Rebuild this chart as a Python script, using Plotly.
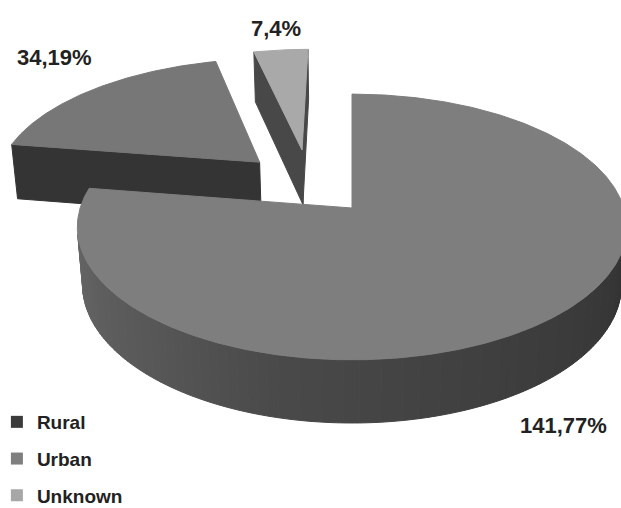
import numpy as np
import plotly.graph_objects as go

# ---------------- data ----------------
categories = ["Rural", "Urban", "Unknown"]
counts = [34, 141, 7]
percents = [19, 77, 4]

# ---------------- style ----------------
clockwise_order = ["Urban", "Rural", "Unknown"]   # slice order clockwise from 12 o'clock
legend_colors = {"Rural": "#3b3b3b", "Urban": "#7f7f7f", "Unknown": "#a7a7a7"}
top_colors = {"Rural": "#777777", "Urban": "#7e7e7e", "Unknown": "#a9a9a9"}
cut_colors = {"Rural": "#343434", "Urban": "#3a3a3a", "Unknown": "#484848"}
explode = {"Rural": (0.515, 316.0), "Urban": (0.0, 0.0), "Unknown": (0.515, 337.6)}
# label: radius factor, z level (0 top / 1 bottom), pixel dx, dy
label_style = {"Rural": (1.3, 0, 6, -13), "Urban": (1.1, 1, -5, 32), "Unknown": (1.25, 0, 0, 0)}

# camera / projection (pixel space)
ALPHA = np.radians(28.6)
DIST = 6.15
FOC = 1672.0
CX, CY = 352.0, 208.0
THICK = 0.244
W, H = 621, 508

fwd = np.array([0.0, np.cos(ALPHA), -np.sin(ALPHA)])
up = np.array([0.0, np.sin(ALPHA), np.cos(ALPHA)])
cam = -DIST * fwd


def proj(P):
    P = np.atleast_2d(np.asarray(P, dtype=float))
    D = P @ fwd + DIST
    sx = CX + FOC * P[:, 0] / D
    sy = CY - FOC * (P @ up) / D
    return sx, sy


def side_gray(s):
    v = np.interp(s, [-1.0, -0.87, -0.26, 0.77, 1.0], [102, 94, 74, 58, 51])
    return int(round(v))


total = float(sum(counts))
cnt = dict(zip(categories, counts))
pct = dict(zip(categories, percents))

# angular spans
spans = {}
a = 0.0
for name in clockwise_order:
    sweep = 360.0 * cnt[name] / total
    spans[name] = (a, a + sweep)
    a += sweep

slices = []
for name in clockwise_order:
    a1, a2 = np.radians(spans[name][0]), np.radians(spans[name][1])
    m, th = explode[name]
    th = np.radians(th)
    off = np.array([m * np.sin(th), m * np.cos(th)])
    slices.append((name, a1, a2, off))

# painter's order: furthest first
slices.sort(key=lambda s: -(s[3][1]))

fig = go.Figure()


def add_polys(polys, color):
    xs, ys = [], []
    for poly in polys:
        sx, sy = proj(poly)
        xs += list(sx) + [sx[0], None]
        ys += list(sy) + [sy[0], None]
    fig.add_trace(go.Scatter(x=xs, y=ys, mode="lines", fill="toself",
                             fillcolor=color, line=dict(color=color, width=1),
                             hoverinfo="skip", showlegend=False))


def visible(P0, n):
    return float(np.dot(cam - P0, n)) > 1e-6


for name, a1, a2, off in slices:
    ox, oy = off

    def rim(phi, z):
        return [ox + np.sin(phi), oy + np.cos(phi), z]

    def apex(z):
        return [ox, oy, z]

    # radial cut faces
    cuts = []
    n1 = np.array([-np.cos(a1), np.sin(a1), 0.0])
    f1 = np.array([apex(0), rim(a1, 0), rim(a1, -THICK), apex(-THICK)])
    if visible(f1[0], n1):
        cuts.append(f1)
    n2 = np.array([np.cos(a2), -np.sin(a2), 0.0])
    f2 = np.array([apex(0), rim(a2, 0), rim(a2, -THICK), apex(-THICK)])
    if visible(f2[0], n2):
        cuts.append(f2)
    if cuts:
        add_polys(cuts, cut_colors[name])

    # outer curved side, shaded strips
    nstep = max(2, int(np.degrees(a2 - a1) / 1.0))
    edges = np.linspace(a1, a2, nstep + 1)
    groups = {}
    for b0, b1 in zip(edges[:-1], edges[1:]):
        pm = 0.5 * (b0 + b1)
        n = np.array([np.sin(pm), np.cos(pm), 0.0])
        P0 = np.array(rim(pm, 0))
        if not visible(P0, n):
            continue
        g = side_gray(np.sin(pm))
        poly = np.array([rim(b0, 0), rim(b1, 0), rim(b1, -THICK), rim(b0, -THICK)])
        groups.setdefault(g, []).append(poly)
    for g, polys in sorted(groups.items()):
        add_polys(polys, "rgb(%d,%d,%d)" % (g, g, g))

    # top face
    arc = np.linspace(a1, a2, max(8, int(np.degrees(a2 - a1) * 2)))
    top = np.array([apex(0)] + [rim(p, 0) for p in arc])
    add_polys([top], top_colors[name])

    # data label
    r, zl, dx, dy = label_style[name]
    pm = 0.5 * (a1 + a2)
    lp = np.array([ox + r * np.sin(pm), oy + r * np.cos(pm), -THICK * zl])
    lx, ly = proj(lp)
    fig.add_annotation(x=float(lx[0]) + dx, y=float(ly[0]) + dy,
                       text=f"{cnt[name]},{pct[name]}%", showarrow=False,
                       xanchor="center", yanchor="middle",
                       font=dict(family="Liberation Sans, Arial, sans-serif", size=22,
                                 color="#222222", weight="bold"))

# legend entries
for name in categories:
    fig.add_trace(go.Scatter(x=[None], y=[None], mode="markers", name=name,
                             legendgroup=name,
                             marker=dict(symbol="square", size=12,
                                         color=legend_colors[name]),
                             showlegend=True))

fig.update_layout(
    width=W, height=H,
    margin=dict(l=0, r=0, t=0, b=0, autoexpand=False),
    paper_bgcolor="white", plot_bgcolor="white",
    xaxis=dict(range=[0, W], visible=False, fixedrange=True),
    yaxis=dict(range=[H, 0], visible=False, fixedrange=True),
    showlegend=True,
    legend=dict(x=-0.005, y=1 - 403 / H, xanchor="left", yanchor="top",
                bgcolor="rgba(0,0,0,0)", tracegroupgap=9, traceorder="grouped",
                itemwidth=30,
                font=dict(family="Liberation Sans, Arial, sans-serif", size=19,
                          color="#222222", weight="bold")),
)

fig.write_html("out.html")
